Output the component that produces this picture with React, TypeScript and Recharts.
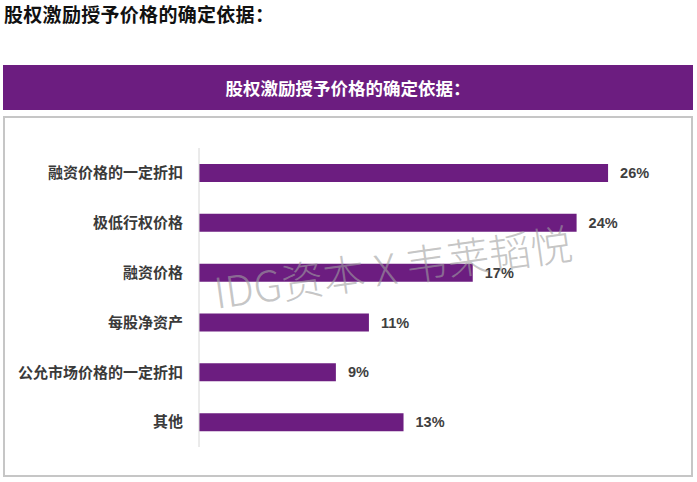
import { BarChart, Bar, XAxis, YAxis, LabelList } from "recharts";

const categories = ["融资价格的一定折扣", "极低行权价格", "融资价格", "每股净资产", "公允市场价格的一定折扣", "其他"];
const shares = [26, 24, 17.4, 10.8, 8.7, 13];
const titleText = "股权激励授予价格的确定依据：";
const watermark = "IDG资本 X 韦莱韬悦";

const data = categories.map((name, i) => ({ name, value: shares[i] }));

const purple = "#6c1d80";
const cjk = "'Noto Sans CJK SC', 'Liberation Sans', sans-serif";

export default function App() {
  return (
    <div style={{ position: "absolute", left: 0, top: 0, width: 697, height: 482, background: "#fff", overflow: "hidden", fontFamily: cjk }}>
      <div style={{ position: "absolute", left: 4, top: 1, fontSize: 19, fontWeight: 700, color: "#111", lineHeight: "26px", letterSpacing: 0.3 }}>
        {titleText}
      </div>
      <div
        style={{
          position: "absolute",
          left: 3,
          top: 65,
          width: 690,
          height: 45,
          background: purple,
          color: "#fff",
          fontSize: 17.5,
          fontWeight: 700,
          display: "flex",
          alignItems: "center",
          justifyContent: "center",
        }}
      >
        {titleText}
      </div>
      <div style={{ position: "absolute", left: 3, top: 116, width: 686, height: 357, border: "2px solid #c6c6c6" }} />
      <div style={{ position: "absolute", left: 0, top: 0 }}>
        <BarChart width={697} height={482} data={data} layout="vertical" margin={{ top: 148, right: 26, bottom: 35, left: 0 }}>
          <XAxis type="number" domain={[0, 30]} hide />
          <YAxis
            type="category"
            dataKey="name"
            width={199}
            axisLine={{ stroke: "#d6d6d6" }}
            tickLine={false}
            tickSize={0}
            tickMargin={16}
            tick={{ fill: "#3a3a3a", fontSize: 15, fontWeight: 700, fontFamily: cjk }}
          />
          <Bar dataKey="value" fill={purple} barSize={18} isAnimationActive={false}>
            <LabelList
              dataKey="value"
              position="right"
              offset={12}
              formatter={(v: any) => `${Math.round(Number(v))}%`}
              style={{ fill: "#3f3f3f", fontSize: 14.5, fontWeight: 700, fontFamily: "'Liberation Sans', Arial, sans-serif" }}
            />
          </Bar>
        </BarChart>
      </div>
      <div
        style={{
          position: "absolute",
          left: 214,
          top: 266,
          fontSize: 42,
          lineHeight: "50px",
          fontWeight: 300,
          color: "rgba(160,160,160,0.6)",
          whiteSpace: "nowrap",
          transform: "rotate(-8deg)",
          transformOrigin: "left center",
          pointerEvents: "none",
        }}
      >
        {watermark}
      </div>
    </div>
  );
}
